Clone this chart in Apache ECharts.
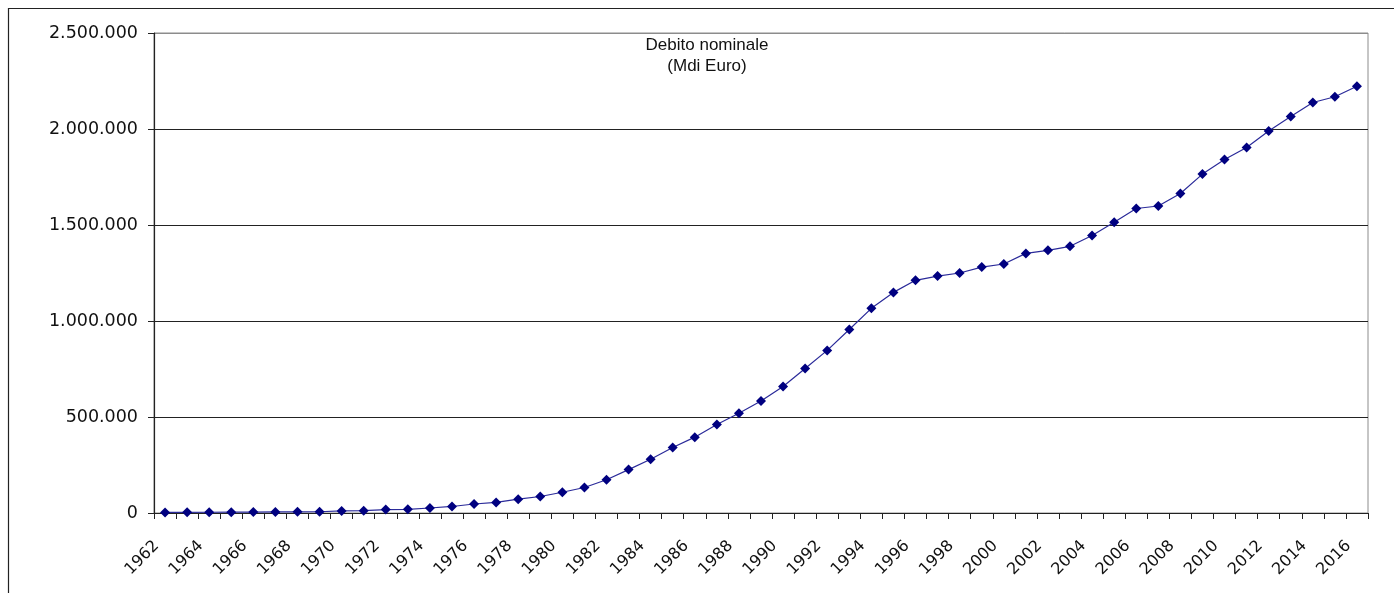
<!DOCTYPE html>
<html>
<head>
<meta charset="utf-8">
<script src="https://cdn.jsdelivr.net/npm/echarts@6/dist/echarts.min.js"></script>
<style>
html,body{margin:0;padding:0;background:#fff;}
#chart{width:1394px;height:593px;}
</style>
</head>
<body>
<div id="chart"></div>
<script>
var years = ['1962','1963','1964','1965','1966','1967','1968','1969','1970','1971','1972','1973','1974','1975','1976','1977','1978','1979','1980','1981','1982','1983','1984','1985','1986','1987','1988','1989','1990','1991','1992','1993','1994','1995','1996','1997','1998','1999','2000','2001','2002','2003','2004','2005','2006','2007','2008','2009','2010','2011','2012','2013','2014','2015','2016'];
var debito = [3000,3500,4000,4500,5000,5500,6000,6500,11000,12000,18000,19000,26000,34000,47000,55000,72000,86000,108000,133000,173000,226000,280000,341000,395000,461000,520000,583000,659000,753000,847000,956000,1066000,1149000,1212000,1234000,1250000,1281000,1297000,1352000,1368000,1389000,1445000,1514000,1586000,1599000,1664000,1765000,1841000,1904000,1990000,2065000,2138000,2168000,2223000];
var yTicks = [0, 500000, 1000000, 1500000, 2000000, 2500000];
var titleLines = ['Debito nominale', '(Mdi Euro)'];

function fmtIt(v){
  return String(Math.round(v)).replace(/\B(?=(\d{3})+(?!\d))/g, '.');
}

var chart = echarts.init(document.getElementById('chart'), null, {renderer:'canvas'});
chart.setOption({
  animation:false,
  backgroundColor:'#ffffff',
  grid:{left:154, right:26, top:33, bottom:80, show:true, borderColor:'#8c8c8c', borderWidth:1, containLabel:false},
  graphic:[
    {type:'rect', shape:{x:8.5, y:8.5, width:1420, height:620}, style:{fill:'none', stroke:'#222', lineWidth:1.2}, silent:true},
    {type:'text', x:707, y:35, style:{text:titleLines.join('\n'), align:'center', verticalAlign:'top', font:'17px "Liberation Sans", Arial, sans-serif', lineHeight:21, fill:'#111'}}
  ],
  xAxis:{
    type:'category',
    data:years,
    boundaryGap:true,
    axisLine:{show:true, lineStyle:{color:'#222', width:1.2}},
    axisTick:{show:true, interval:0, length:6, lineStyle:{color:'#222'}},
    axisLabel:{interval:1, rotate:45, margin:22, padding:[0,12,0,0], fontSize:16, fontFamily:'"DejaVu Sans", sans-serif', color:'#111'},
    splitLine:{show:false}
  },
  yAxis:{
    type:'value',
    min:yTicks[0],
    max:yTicks[yTicks.length-1],
    interval:yTicks[1]-yTicks[0],
    axisLine:{show:true, lineStyle:{color:'#222', width:1.2}},
    axisTick:{show:true, length:6, lineStyle:{color:'#222'}},
    axisLabel:{margin:16, fontSize:17.5, fontFamily:'"DejaVu Sans", sans-serif', color:'#111', formatter:function(v){return fmtIt(v);}},
    splitLine:{show:true, lineStyle:{color:['#222','#222','#222','#222','#222','#8c8c8c'], width:1.2}}
  },
  series:[{
    type:'line',
    data:debito,
    symbol:'diamond',
    symbolSize:10,
    showSymbol:true,
    lineStyle:{color:'#2b2b9a', width:1.2},
    itemStyle:{color:'#000080'}
  }]
});
</script>
</body>
</html>
